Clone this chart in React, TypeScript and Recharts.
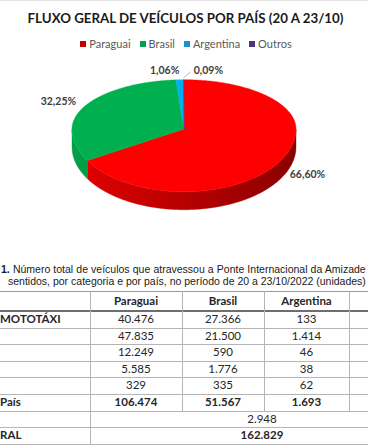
import React from 'react';
import { PieChart, Pie, Cell, Legend } from 'recharts';

// ---------- chart data ----------
const CATEGORIES = ['Paraguai', 'Brasil', 'Argentina', 'Outros'];
const VALUES = [106474, 51567, 1693, 144];

// ---------- table data ----------
const TABLE_HEADERS = ['Paraguai', 'Brasil', 'Argentina'];
const ROW_LABELS = ['MOTOTÁXI', '', '', '', '', 'País', '', 'RAL'];
const PARAGUAI = [40476, 47835, 12249, 5585, 329];
const BRASIL = [27366, 21500, 590, 1776, 335];
const ARGENTINA = [133, 1414, 46, 38, 62];
const TOTALS = [106474, 51567, 1693];
const OUTROS_TOTAL = 2948;
const GRAND_TOTAL = 162829;

// ---------- styles ----------
const TOP_COLORS = ['#FF0000', '#00B050', '#00B0F0', '#7030A0'];
const SIDE_LIGHT = ['#E40000', '#00A048', '#009CD8', '#5E2890'];
const SIDE_DARK = ['#8A0000', '#006630', '#006890', '#3E1668'];
const LEGEND_COLORS = ['#C00000', '#00A050', '#1E90D0', '#4B3580'];

const TILT_TOP = 0.44;
const TILT_BOTTOM = 0.56;
const DEPTH = 18;
const LABEL_GAP = 10;

const fmt = (n: number) => String(n).replace(/\B(?=(\d{3})+(?!\d))/g, '.');

const chartData = CATEGORIES.map((name, i) => ({ name, value: VALUES[i] }));

function renderSlice(props: any) {
  const { cx, cy, outerRadius, startAngle, endAngle, midAngle, percent, index } = props;
  const rx = outerRadius;
  const ryT = outerRadius * TILT_TOP;
  const ryB = outerRadius * TILT_BOTTOM;
  const pt = (deg: number, extra = 0): [number, number] => {
    const r = (deg * Math.PI) / 180;
    const s = Math.sin(r);
    return [cx + (rx + extra) * Math.cos(r), cy - (s > 0 ? ryT + extra : ryB + extra) * s];
  };
  const n = Math.max(1, Math.ceil(Math.abs(endAngle - startAngle) * 2));
  const angles: number[] = [];
  for (let i = 0; i <= n; i++) angles.push(startAngle + ((endAngle - startAngle) * i) / n);
  const lo = Math.min(startAngle, endAngle);
  const hi = Math.max(startAngle, endAngle);
  for (let k = Math.ceil(lo / 180); k <= Math.floor(hi / 180); k++) angles.push(k * 180);
  angles.sort((a, b) => (startAngle > endAngle ? b - a : a - b));

  const topPts = angles.map((a) => pt(a));
  const topPath =
    `M${cx},${cy} ` + topPts.map((p) => `L${p[0].toFixed(2)},${p[1].toFixed(2)}`).join(' ') + ' Z';

  const runs: number[][] = [];
  let cur: number[] = [];
  angles.forEach((a) => {
    const s = Math.sin((a * Math.PI) / 180);
    if (s <= 1e-9) cur.push(a);
    else {
      if (cur.length > 1) runs.push(cur);
      cur = [];
    }
  });
  if (cur.length > 1) runs.push(cur);
  const sidePaths = runs.map((run) => {
    const t = run.map((a) => pt(a));
    const b = t.slice().reverse().map((p) => [p[0], p[1] + DEPTH]);
    return (
      'M' +
      t.map((p) => `${p[0].toFixed(2)},${p[1].toFixed(2)}`).join(' L') +
      ' L' +
      b.map((p) => `${p[0].toFixed(2)},${p[1].toFixed(2)}`).join(' L') +
      ' Z'
    );
  });

  const gid = `side-grad-${index}`;
  const rad = (midAngle * Math.PI) / 180;
  const c = Math.cos(rad);
  const s = Math.sin(rad);
  const text = (percent * 100).toFixed(2).replace('.', ',') + '%';
  let lx = cx + (rx + LABEL_GAP) * c;
  let ly = cy - (s > 0 ? ryT + LABEL_GAP : ryB + DEPTH + LABEL_GAP) * s;
  let anchor: 'start' | 'end' = c >= 0 ? 'start' : 'end';
  let leader: React.ReactNode = null;
  if (percent < 0.005) {
    const p0 = pt(midAngle, 2);
    const p1: [number, number] = [p0[0] + 7, p0[1] - 6];
    leader = (
      <path d={`M${p0[0]},${p0[1]} L${p1[0]},${p1[1]}`} stroke="#A6A6A6" strokeWidth={0.8} fill="none" />
    );
    lx = p1[0] + 3;
    ly = p1[1] - 2;
    anchor = 'start';
  }

  return (
    <g key={`slice-${index}`}>
      <defs>
        <linearGradient id={gid} gradientUnits="userSpaceOnUse" x1={cx - rx} y1={0} x2={cx + rx} y2={0}>
          <stop offset="0%" stopColor={SIDE_LIGHT[index]} />
          <stop offset="100%" stopColor={SIDE_DARK[index]} />
        </linearGradient>
      </defs>
      {sidePaths.map((d, i) => (
        <path key={i} d={d} fill={`url(#${gid})`} stroke={`url(#${gid})`} strokeWidth={0.4} />
      ))}
      <path d={topPath} fill={TOP_COLORS[index]} stroke={TOP_COLORS[index]} strokeWidth={0.4} />
      {leader}
      <text
        x={lx}
        y={ly}
        textAnchor={anchor}
        dominantBaseline="central"
        fontFamily="Lato, 'Open Sans', sans-serif"
        fontWeight={700}
        fontSize={10.5}
        fill="#404040"
      >
        {text}
      </text>
    </g>
  );
}

function renderLegend(props: any) {
  const payload = (props.payload || [])
    .slice()
    .sort((a: any, b: any) => CATEGORIES.indexOf(a.value) - CATEGORIES.indexOf(b.value));
  return (
    <div
      style={{
        display: 'flex',
        justifyContent: 'center',
        gap: 9,
        fontFamily: "Lato, 'Open Sans', sans-serif",
        fontSize: 11,
        color: '#595959',
        lineHeight: '14px',
      }}
    >
      {payload.map((entry: any, i: number) => {
        const idx = CATEGORIES.indexOf(entry.value);
        return (
          <div key={i} style={{ display: 'flex', alignItems: 'center' }}>
            <span
              style={{
                display: 'inline-block',
                width: 6,
                height: 6,
                background: LEGEND_COLORS[idx >= 0 ? idx : i],
                marginRight: 3,
              }}
            />
            <span>{entry.value}</span>
          </div>
        );
      })}
    </div>
  );
}

const COL_EDGES = [90, 182, 264, 349, 434];
const HEADER_TOP = 291;
const HEADER_BOTTOM = 311;
const ROW_H = 16.6;

export default function App() {
  const font = "Lato, 'Open Sans', sans-serif";
  const rowTop = (i: number) => HEADER_BOTTOM + i * ROW_H;
  const cells: React.ReactNode[] = [];
  TABLE_HEADERS.forEach((h, j) => {
    cells.push(
      <div
        key={`h${j}`}
        style={{
          position: 'absolute',
          left: COL_EDGES[j],
          width: COL_EDGES[j + 1] - COL_EDGES[j],
          top: HEADER_TOP,
          height: HEADER_BOTTOM - HEADER_TOP,
          lineHeight: `${HEADER_BOTTOM - HEADER_TOP}px`,
          textAlign: 'center',
          fontWeight: 700,
          fontSize: 11.5,
        }}
      >
        {h}
      </div>
    );
  });
  const cols = [PARAGUAI, BRASIL, ARGENTINA];
  for (let r = 0; r < 5; r++) {
    cols.forEach((col, j) => {
      cells.push(
        <div
          key={`c${r}-${j}`}
          style={{
            position: 'absolute',
            left: COL_EDGES[j],
            width: COL_EDGES[j + 1] - COL_EDGES[j],
            top: rowTop(r),
            height: ROW_H,
            lineHeight: `${ROW_H}px`,
            textAlign: 'center',
            fontSize: 11.5,
          }}
        >
          {fmt(col[r])}
        </div>
      );
    });
  }
  TOTALS.forEach((t, j) => {
    cells.push(
      <div
        key={`t${j}`}
        style={{
          position: 'absolute',
          left: COL_EDGES[j],
          width: COL_EDGES[j + 1] - COL_EDGES[j],
          top: rowTop(5),
          height: ROW_H,
          lineHeight: `${ROW_H}px`,
          textAlign: 'center',
          fontWeight: 700,
          fontSize: 11.5,
        }}
      >
        {fmt(t)}
      </div>
    );
  });
  [OUTROS_TOTAL, GRAND_TOTAL].forEach((v, k) => {
    cells.push(
      <div
        key={`m${k}`}
        style={{
          position: 'absolute',
          left: COL_EDGES[0],
          width: COL_EDGES[4] - COL_EDGES[0],
          top: rowTop(6 + k),
          height: ROW_H,
          lineHeight: `${ROW_H}px`,
          textAlign: 'center',
          fontWeight: k === 1 ? 700 : 400,
          fontSize: 11.5,
        }}
      >
        {fmt(v)}
      </div>
    );
  });
  ROW_LABELS.forEach((l, r) => {
    if (!l) return;
    cells.push(
      <div
        key={`l${r}`}
        style={{
          position: 'absolute',
          left: 0,
          top: rowTop(r),
          height: ROW_H,
          lineHeight: `${ROW_H}px`,
          fontWeight: 700,
          fontSize: 11.5,
          whiteSpace: 'nowrap',
        }}
      >
        {l}
      </div>
    );
  });
  const lines: React.ReactNode[] = [];
  lines.push(
    <div key="top" style={{ position: 'absolute', left: 0, width: 368, top: HEADER_TOP, height: 1, background: '#9a9a9a' }} />
  );
  lines.push(
    <div key="hb" style={{ position: 'absolute', left: 0, width: 368, top: HEADER_BOTTOM - 1, height: 2, background: '#6e6e6e' }} />
  );
  for (let i = 1; i <= 8; i++) {
    lines.push(
      <div
        key={`hl${i}`}
        style={{ position: 'absolute', left: 0, width: 368, top: Math.round(rowTop(i)), height: 1, background: '#b5b5b5' }}
      />
    );
  }
  COL_EDGES.slice(0, 4).forEach((x, j) => {
    const bottom = j === 0 ? rowTop(8) : rowTop(6);
    lines.push(
      <div
        key={`vl${j}`}
        style={{ position: 'absolute', left: x, width: 1, top: HEADER_TOP, height: bottom - HEADER_TOP, background: '#b5b5b5' }}
      />
    );
  });

  return (
    <div
      style={{
        position: 'absolute',
        left: 0,
        top: 0,
        width: 368,
        height: 445,
        overflow: 'hidden',
        background: '#ffffff',
        fontFamily: font,
        color: '#262626',
      }}
    >
      <div style={{ position: 'absolute', left: 0, top: 0, width: 368, height: 1, background: '#e2e2e2' }} />
      <div
        style={{
          position: 'absolute',
          left: 0,
          top: 9,
          width: 371,
          textAlign: 'center',
          fontWeight: 700,
          fontSize: 13.3,
          lineHeight: '18px',
          color: '#1a1a1a',
        }}
      >
        FLUXO GERAL DE VEÍCULOS POR PAÍS (20 A 23/10)
      </div>
      <div style={{ position: 'absolute', left: 0, top: 0 }}>
        <PieChart width={368} height={250} margin={{ top: 0, right: 0, bottom: 0, left: 0 }}>
          <Pie
            data={chartData}
            dataKey="value"
            nameKey="name"
            cx={184}
            cy={129}
            outerRadius={112}
            startAngle={90}
            endAngle={-270}
            isAnimationActive={false}
            labelLine={false}
            label={renderSlice}
            stroke="none"
          >
            {chartData.map((d) => (
              <Cell key={d.name} fill="transparent" stroke="none" />
            ))}
          </Pie>
          <Legend
            verticalAlign="bottom"
            align="center"
            height={14}
            wrapperStyle={{ top: 37, bottom: 'auto', left: 2, width: 368 }}
            content={renderLegend}
          />
        </PieChart>
      </div>
      <div
        style={{
          position: 'absolute',
          left: 1,
          top: 264,
          width: 367,
          fontFamily: "'Liberation Sans', Arial, sans-serif",
          fontSize: 10.5,
          lineHeight: '11.5px',
          color: '#1a1a1a',
          whiteSpace: 'nowrap',
        }}
      >
        <div style={{ wordSpacing: 0.2 }}>
          <b>1.</b> Número total de veículos que atravessou a Ponte Internacional da Amizade
        </div>
        <div style={{ paddingLeft: 7 }}>
          sentidos, por categoria e por país, no período de 20 a 23/10/2022 (unidades)
        </div>
      </div>
      <div style={{ position: 'absolute', left: 0, top: 0, width: 368, height: 445, color: '#262626', fontFamily: font }}>
        {lines}
        {cells}
      </div>
    </div>
  );
}
